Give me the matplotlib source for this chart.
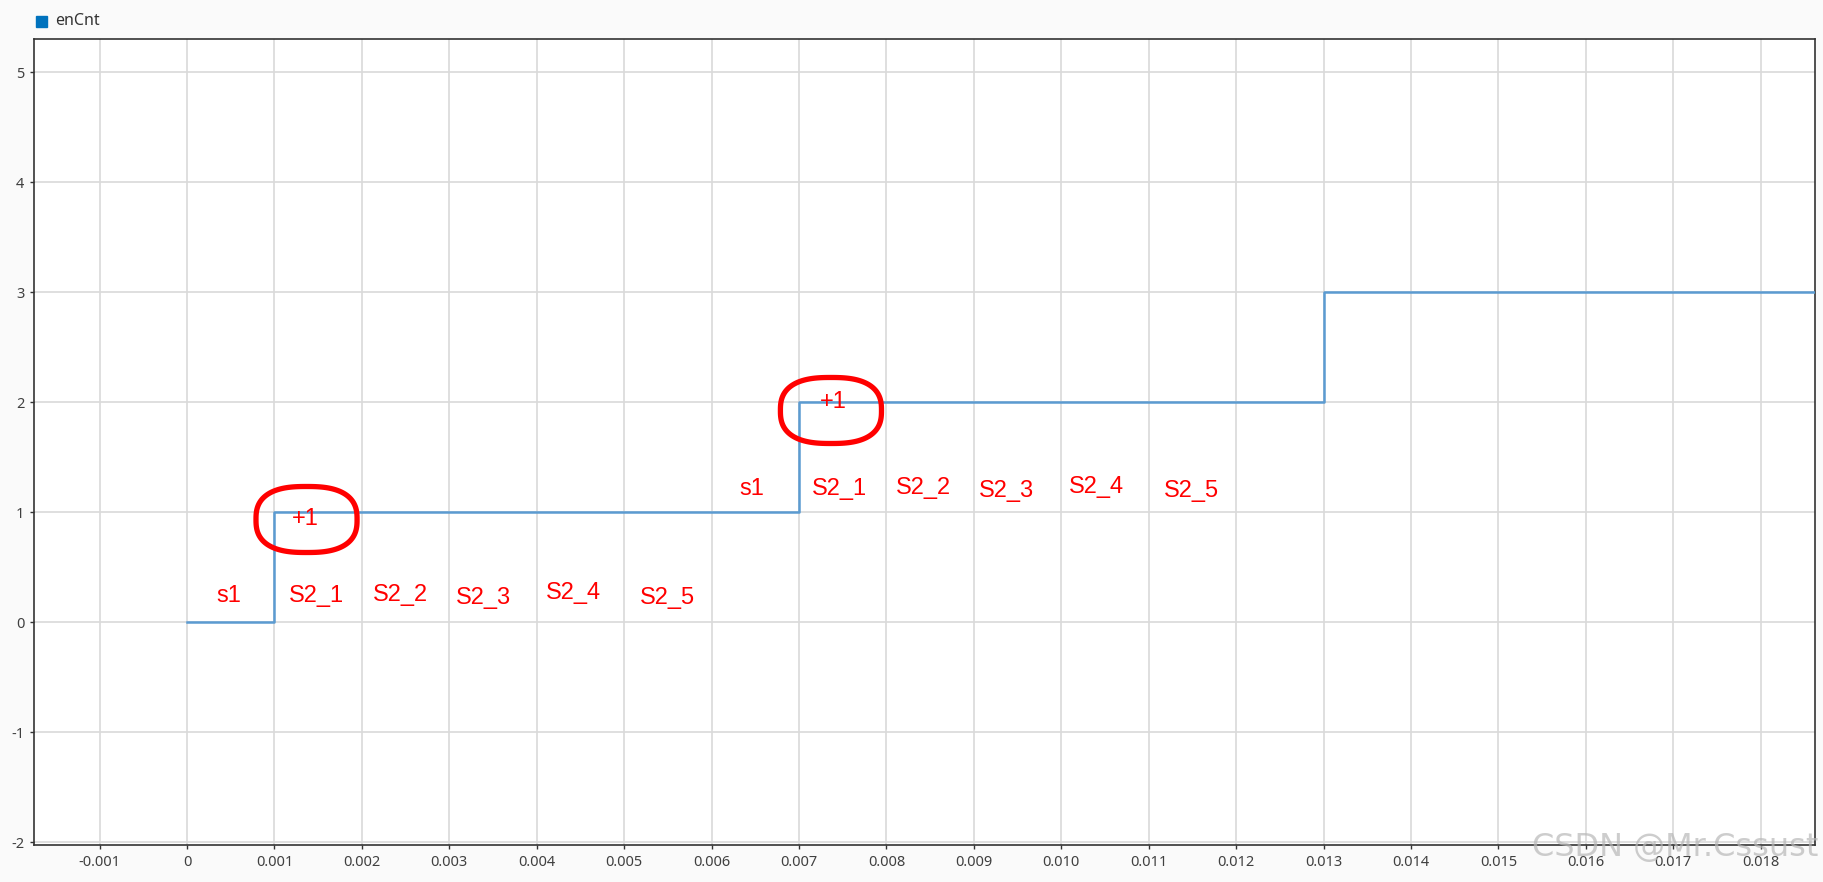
import numpy as np
import matplotlib
matplotlib.use("Agg")
import matplotlib.pyplot as plt
from matplotlib.patches import Polygon, Rectangle

plt.rcParams["axes.unicode_minus"] = False

# step signal enCnt
t_steps = [0.0, 0.001, 0.007, 0.013, 0.0187]
en_cnt = [0, 1, 2, 3, 3]

# red hand annotations
labels_1 = ["s1", "S2_1", "S2_2", "S2_3", "S2_4", "S2_5"]
labels_1_x = [0.00048, 0.00148, 0.00244, 0.00339, 0.00442, 0.0055]
labels_1_y = [0.24, 0.24, 0.25, 0.22, 0.26, 0.22]
labels_2_x = [0.00646, 0.00746, 0.00842, 0.00937, 0.0104, 0.01149]
labels_2_y = [1.21, 1.21, 1.22, 1.19, 1.23, 1.19]
plus_x = [0.00135, 0.00739]
plus_y = [0.94, 2.0]
ring_x = [0.001367, 0.007365]
ring_y = [0.932, 1.923]

x_ticks = [round(-0.001 + 0.001 * i, 3) for i in range(20)]
x_tick_labels = ["0" if v == 0 else "%.3f" % v for v in x_ticks]
y_ticks = [-2, -1, 0, 1, 2, 3, 4, 5]

fig = plt.figure(figsize=(18.23, 8.82), dpi=100)
fig.patch.set_facecolor("#fafafa")
ax = fig.add_axes([34 / 1823, 1 - 845 / 882, (1815 - 34) / 1823, (845 - 39) / 882])
ax.set_facecolor("white")

ax.step(t_steps, en_cnt, where="post", color="#5b9bd1", lw=1.8, zorder=3)

ax.set_xlim(-0.00175, 0.01862)
ax.set_ylim(-2.027, 5.3)
ax.set_xticks(x_ticks)
ax.set_xticklabels(x_tick_labels)
ax.set_yticks(y_ticks)
ax.grid(True, color="#d9d9d9", lw=1.2, zorder=0)
ax.set_axisbelow(True)
for s in ax.spines.values():
    s.set_color("#333333")
    s.set_linewidth(1.2)
ax.tick_params(length=3, width=1, color="#333333", labelcolor="#404040",
               labelsize=10.5, pad=4)
for lab in ax.get_xticklabels() + ax.get_yticklabels():
    lab.set_family("Noto Sans")

# legend at top-left
fig.patches.append(Rectangle((36 / 1823, 1 - 27 / 882), 11 / 1823, 11 / 882,
                             transform=fig.transFigure, color="#0072bd"))
fig.text(55 / 1823, 1 - 21 / 882, "enCnt", fontsize=11.5, color="#333333",
         family="Noto Sans", va="center", ha="left")

# red labels
red_font = ["Liberation Sans", "DejaVu Sans"]
for lab, x, y in zip(labels_1, labels_1_x, labels_1_y):
    ax.text(x, y, lab, color="red", fontsize=17, ha="center", va="center", family=red_font, zorder=5)
for lab, x, y in zip(labels_1, labels_2_x, labels_2_y):
    ax.text(x, y, lab, color="red", fontsize=17, ha="center", va="center", family=red_font, zorder=5)
for x, y in zip(plus_x, plus_y):
    ax.text(x, y, "+1", color="red", fontsize=17, ha="center", va="center", family=red_font, zorder=5)

# hand-drawn rings
th = np.linspace(0, 2 * np.pi, 200)
n = 2.6
for cx, cy in zip(ring_x, ring_y):
    a, b = 0.000578, 0.30
    px = cx + a * np.sign(np.cos(th)) * np.abs(np.cos(th)) ** (2 / n)
    py = cy + b * np.sign(np.sin(th)) * np.abs(np.sin(th)) ** (2 / n)
    ax.add_patch(Polygon(np.column_stack([px, py]), closed=True, fill=False,
                         edgecolor="red", lw=3.8, zorder=6))

# watermark
fig.text(1818 / 1823, 1 - 848 / 882, "CSDN @Mr.Cssust", fontsize=23, color="#b8b8b8",
         alpha=0.7, ha="right", va="center", family="DejaVu Sans")

fig.savefig("out.png", dpi=100, facecolor=fig.get_facecolor())
